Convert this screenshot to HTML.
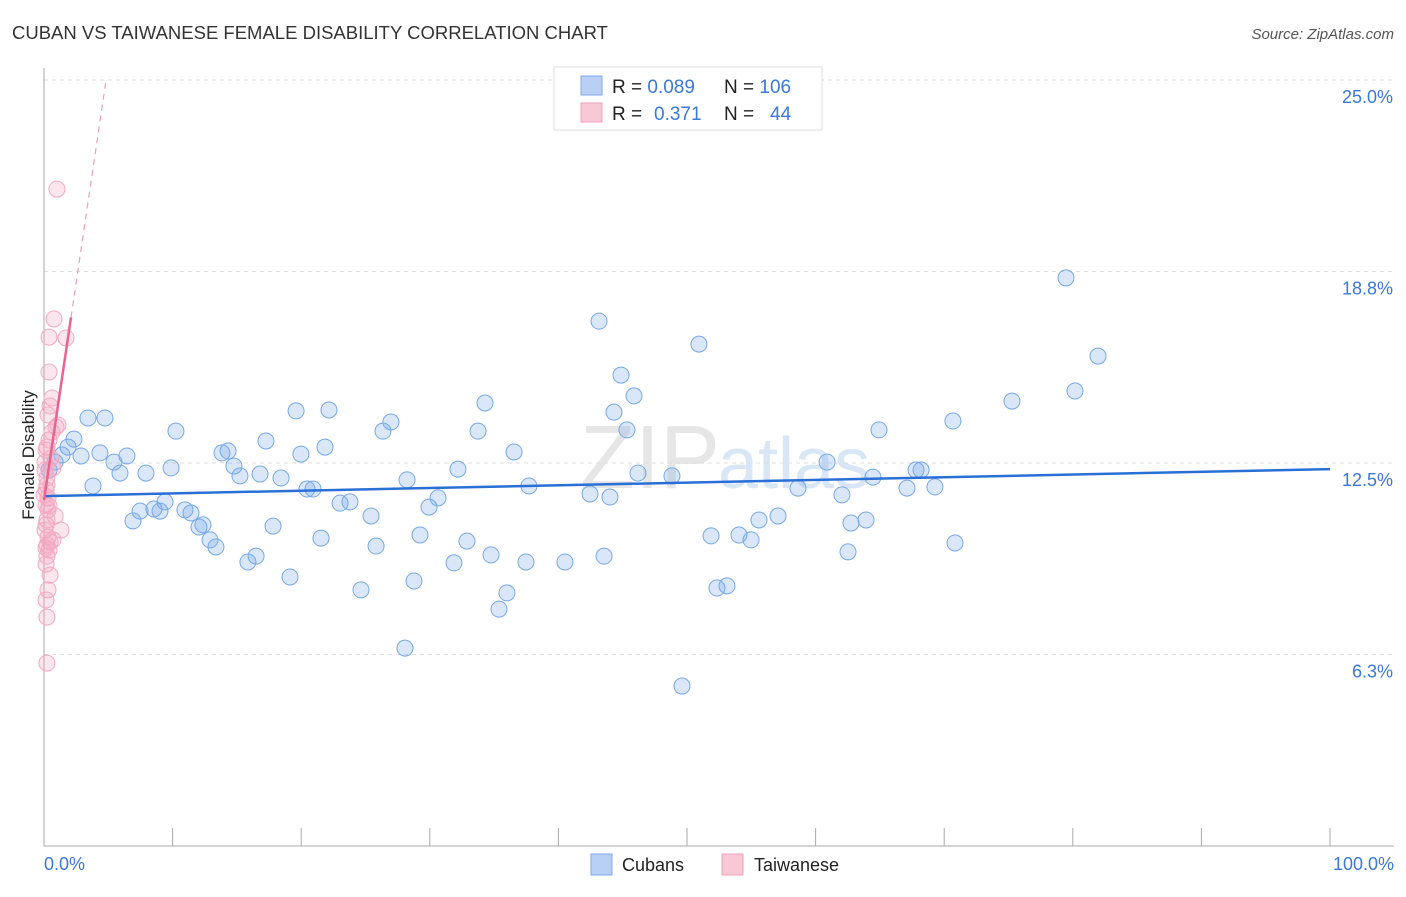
<!DOCTYPE html>
<html><head><meta charset="utf-8"><style>
body{margin:0;background:#fff;font-family:"Liberation Sans",sans-serif;}
svg text{font-family:"Liberation Sans",sans-serif;}
</style></head><body>
<svg id="chart" width="1406" height="892" viewBox="0 0 1406 892">
<text x="12" y="39" font-size="18.5" fill="#333">CUBAN VS TAIWANESE FEMALE DISABILITY CORRELATION CHART</text>
<text x="1394" y="39" font-size="15" fill="#555" text-anchor="end" font-style="italic">Source: ZipAtlas.com</text>
<text x="720" y="488" font-size="90" fill="#e6e6e6" text-anchor="end" font-family="Liberation Serif">ZIP</text>
<text x="718" y="488" font-size="72" fill="#d8e6f6">atlas</text>
<g id="grid"></g><g id="axes"></g><g id="pts"></g><g id="trend"></g>
<text transform="translate(34,455) rotate(-90)" font-size="17" fill="#222" text-anchor="middle">Female Disability</text>
<text x="44" y="870" font-size="18" fill="#3b78d8">0.0%</text>
<text x="1394" y="870" font-size="18" fill="#3b78d8" text-anchor="end">100.0%</text>
<g>
<rect x="554" y="67" width="268" height="63" fill="#fff" stroke="#ddd"/>
<rect x="581" y="76" width="21" height="19" fill="#b7d0f3" stroke="#7eaae8"/>
<rect x="581" y="103" width="21" height="19" fill="#f9c8d6" stroke="#f0a0b8"/>
<text x="612" y="93" font-size="19" fill="#222">R = <tspan fill="#3b78d8">0.089</tspan><tspan x="724">N = </tspan><tspan fill="#3b78d8">106</tspan></text>
<text x="612" y="120" font-size="19" fill="#222">R = <tspan x="654" fill="#3b78d8">0.371</tspan><tspan x="724">N = </tspan><tspan x="770" fill="#3b78d8">44</tspan></text>
</g>
<g>
<rect x="591" y="854" width="21" height="21" fill="#b7d0f3" stroke="#7eaae8"/>
<text x="622" y="871" font-size="18" fill="#222">Cubans</text>
<rect x="722" y="854" width="21" height="21" fill="#f9c8d6" stroke="#f0a0b8"/>
<text x="754" y="871" font-size="18" fill="#222">Taiwanese</text>
</g>
</svg>
<script>
const yTicks=[6.25,12.5,18.75,25];
const yTickLabels=["6.3%","12.5%","18.8%","25.0%"];
const xTicks=[0,10,20,30,40,50,60,70,80,90,100];
const cubanX=[0.39,0.86,1.40,1.87,2.33,3.42,4.74,2.88,3.81,4.35,5.44,5.91,6.45,6.92,7.47,7.93,8.55,9.02,9.41,9.88,10.26,10.96,11.43,12.05,12.36,12.91,13.37,13.84,14.31,14.77,15.24,15.86,16.49,16.80,17.26,17.81,18.43,19.13,19.60,19.98,20.45,20.92,21.54,21.85,22.16,23.02,23.79,24.65,25.43,25.82,26.36,26.98,28.07,28.23,28.77,29.24,29.94,30.64,31.88,32.19,32.89,33.75,34.29,34.76,35.38,36.00,36.55,37.48,37.71,40.51,42.46,43.16,43.55,44.01,44.32,44.87,45.33,45.88,46.19,48.83,49.61,50.93,51.87,52.33,53.11,54.04,54.98,55.60,57.08,58.63,60.89,62.05,62.52,62.75,63.92,64.46,64.93,67.11,67.81,68.20,69.28,70.68,70.84,75.27,79.47,80.17,81.96];
const cubanY=[12.27,12.53,12.76,13.02,13.28,13.97,13.97,12.73,11.75,12.83,12.53,12.17,12.73,10.61,10.93,12.17,11.00,10.93,11.23,12.34,13.54,10.97,10.87,10.41,10.48,9.99,9.76,12.83,12.89,12.40,12.08,9.27,9.46,12.14,13.22,10.44,12.01,8.78,14.20,12.79,11.65,11.65,10.05,13.02,14.23,11.19,11.23,8.36,10.77,9.79,13.54,13.84,6.46,11.95,8.65,10.15,11.06,11.36,9.24,12.30,9.95,13.54,14.46,9.50,7.73,8.26,12.86,9.27,11.75,9.27,11.49,17.13,9.46,11.39,14.16,15.37,13.58,14.69,12.17,12.08,5.22,16.38,10.12,8.42,8.49,10.15,9.99,10.64,10.77,11.68,12.53,11.46,9.60,10.54,10.64,12.04,13.58,11.68,12.27,12.27,11.72,13.87,9.89,14.52,18.54,14.85,15.99];
const taiwanX=[1.01,0.78,0.39,1.71,0.39,0.62,0.47,0.93,0.39,0.23,0.54,0.70,0.23,0.16,0.31,0.86,0.23,1.32,0.31,0.70,0.23,0.39,0.23,0.16,0.47,0.31,0.16,0.23,0.23,0.16,0.08,0.31,0.16,0.39,0.62,0.08,0.23,0.47,0.16,0.08,1.09,0.31,0.00,0.16];
const taiwanY=[21.44,17.20,16.61,16.58,15.47,14.62,14.36,13.67,13.25,13.02,12.66,12.34,12.01,11.62,11.36,10.77,10.64,10.31,10.08,9.99,9.82,9.66,9.46,9.20,8.84,8.36,8.03,7.47,5.97,12.92,12.53,10.97,10.48,11.10,13.51,12.27,11.78,9.92,9.73,10.31,13.74,14.07,11.46,11.13];
const cubanTrend=[11.42,12.30];
const taiwanTrend=[11.29,2.84];
const NS="http://www.w3.org/2000/svg";
const X0=44,X1=1330,YB=846,YT=80;
function sx(v){return X0+(X1-X0)*v/100;}
function sy(v){return YB-(YB-YT)*v/25;}
function mk(tag,attrs,parent){const e=document.createElementNS(NS,tag);for(const k in attrs)e.setAttribute(k,attrs[k]);parent.appendChild(e);return e;}
const grid=document.getElementById('grid'),axes=document.getElementById('axes'),pts=document.getElementById('pts'),trend=document.getElementById('trend');
yTicks.forEach((t,i)=>{
 const l=mk('line',{x1:X0,x2:1394,y1:sy(t),y2:sy(t),stroke:'#ddd','stroke-dasharray':'4,4'},grid);
 
 
 const tx=mk('text',{x:1393,y:sy(t)+23,'font-size':18,fill:'#3b78d8','text-anchor':'end'},grid);
 tx.textContent=yTickLabels[i];
 
 
});
const ax=mk('line',{x1:X0,x2:X0,y1:68,y2:YB,stroke:'#aaa'},axes);


const bx=mk('line',{x1:X0,x2:1394,y1:YB,y2:YB,stroke:'#aaa'},axes);


xTicks.forEach(t=>{
 const l=mk('line',{x1:sx(t),x2:sx(t),y1:828,y2:YB,stroke:'#aaa'},axes);
 
 
});
cubanX.forEach((x,i)=>{
 const c=mk('circle',{cx:sx(x),cy:sy(cubanY[i]),r:8,fill:'rgba(120,168,235,0.28)',stroke:'#78a8e6','stroke-width':1},pts);
 
 
});
taiwanX.forEach((x,i)=>{
 const c=mk('circle',{cx:sx(x),cy:sy(taiwanY[i]),r:8,fill:'rgba(245,165,195,0.28)',stroke:'#f2aac0','stroke-width':1},pts);
 
 
});
const bt=mk('line',{x1:sx(0),x2:sx(100),y1:sy(cubanTrend[0]),y2:sy(cubanTrend[1]),stroke:'#2a6fd6','stroke-width':2.5},trend);


const tEnd=2.1,tMax=(25-taiwanTrend[0])/taiwanTrend[1];
const pt=mk('line',{x1:sx(0),x2:sx(tEnd),y1:sy(taiwanTrend[0]),y2:sy(taiwanTrend[0]+taiwanTrend[1]*tEnd),stroke:'#e8638e','stroke-width':2.5},trend);


const pd=mk('line',{x1:sx(tEnd),x2:sx(tMax),y1:sy(taiwanTrend[0]+taiwanTrend[1]*tEnd),y2:sy(25),stroke:'#eda0b8','stroke-width':1.2,'stroke-dasharray':'6,5'},trend);


</script>
</body></html>
